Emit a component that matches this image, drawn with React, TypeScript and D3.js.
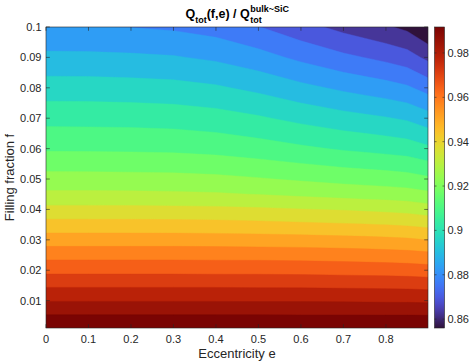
import * as d3 from "d3";
import { useRef, useEffect } from "react";

const width = 476;
const height = 363;
const plotLeft = 46;
const plotRight = 428;
const plotTop = 27;
const plotBottom = 328;
const barLeft = 434.5;
const barWidth = 10;

// sampled eccentricities (columns) and filling fractions (rows)
const ecc = [0, 0.1, 0.2, 0.3, 0.4, 0.5, 0.6, 0.7, 0.75, 0.8, 0.85, 0.899];
const fill = [0.001, 0.005, 0.01, 0.015, 0.02, 0.025, 0.03, 0.035, 0.04, 0.045, 0.05, 0.06, 0.07, 0.08, 0.09, 0.1];

// Q_tot(f,e) / Q_tot^bulk, one row per filling fraction
const qRatio = [
  [0.9917, 0.9917, 0.9917, 0.9917, 0.9917, 0.9917, 0.9917, 0.9917, 0.9917, 0.9917, 0.9917, 0.9917],
  [0.9858, 0.9858, 0.9858, 0.9858, 0.9858, 0.9858, 0.9857, 0.9857, 0.9857, 0.9856, 0.9856, 0.9855],
  [0.9784, 0.9784, 0.9784, 0.9784, 0.9784, 0.9783, 0.9783, 0.9782, 0.9781, 0.978, 0.9779, 0.9777],
  [0.9714, 0.9714, 0.9714, 0.9714, 0.9714, 0.9713, 0.9712, 0.971, 0.9709, 0.9708, 0.9706, 0.9702],
  [0.964, 0.964, 0.964, 0.964, 0.9639, 0.9639, 0.9637, 0.9634, 0.9632, 0.963, 0.9627, 0.9622],
  [0.9572, 0.9572, 0.9572, 0.9572, 0.9571, 0.957, 0.9568, 0.9564, 0.9561, 0.9558, 0.9554, 0.9547],
  [0.9497, 0.9497, 0.9497, 0.9497, 0.9496, 0.9494, 0.9491, 0.9486, 0.9483, 0.9479, 0.9474, 0.9464],
  [0.9425, 0.9425, 0.9425, 0.9424, 0.9422, 0.9418, 0.9412, 0.9406, 0.9403, 0.9399, 0.9393, 0.9383],
  [0.9354, 0.9354, 0.9353, 0.9352, 0.935, 0.9345, 0.9338, 0.9331, 0.9326, 0.9321, 0.9315, 0.9302],
  [0.9284, 0.9284, 0.9283, 0.9281, 0.9277, 0.9269, 0.9259, 0.9249, 0.9244, 0.9239, 0.9233, 0.922],
  [0.923, 0.923, 0.9228, 0.9226, 0.9221, 0.9211, 0.9198, 0.9185, 0.918, 0.9175, 0.9168, 0.9153],
  [0.9133, 0.9132, 0.9131, 0.9128, 0.912, 0.9106, 0.9088, 0.907, 0.9063, 0.9055, 0.9046, 0.9025],
  [0.9056, 0.9055, 0.9053, 0.9049, 0.9039, 0.902, 0.8995, 0.8972, 0.8962, 0.8952, 0.8939, 0.8911],
  [0.8978, 0.8977, 0.8974, 0.8969, 0.8956, 0.8932, 0.89, 0.8871, 0.8858, 0.8845, 0.8828, 0.8793],
  [0.8899, 0.8898, 0.8894, 0.8888, 0.8872, 0.8843, 0.8804, 0.8768, 0.8753, 0.8737, 0.8717, 0.8674],
  [0.8822, 0.8821, 0.8817, 0.8809, 0.8791, 0.8756, 0.8712, 0.867, 0.8652, 0.8633, 0.861, 0.856],
];

const xTicks = [0, 0.1, 0.2, 0.3, 0.4, 0.5, 0.6, 0.7, 0.8];
const yTicks = [0.01, 0.02, 0.03, 0.04, 0.05, 0.06, 0.07, 0.08, 0.09, 0.1];
const cTicks = [0.86, 0.88, 0.9, 0.92, 0.94, 0.96, 0.98];
const cMin = 0.856;
const cMax = 0.9917;
const nLevels = 20;

const axisColor = "#262626";
const font = "'Liberation Sans', Arial, Helvetica, sans-serif";

// matlab-like turbo: d3's polynomial with the real end colours
const turbo = (t: number) => {
  if (t < 0.05) return d3.interpolateRgb("#30123b", d3.interpolateTurbo(0.05))(t / 0.05);
  if (t > 0.9) return d3.interpolateRgb(d3.interpolateTurbo(0.9), "#7a0403")((t - 0.9) / 0.1);
  return d3.interpolateTurbo(t);
};

// fractional grid index (d3.contours puts samples at i + 0.5) -> data value
const fromIndex = (arr: number[], c: number) => {
  const t = Math.max(0, Math.min(arr.length - 1, c - 0.5));
  const i0 = Math.min(Math.floor(t), arr.length - 2);
  return arr[i0] + (t - i0) * (arr[i0 + 1] - arr[i0]);
};

const fmt = d3.format(".2~f");

const Chart = () => {
  const ref = useRef<SVGSVGElement>(null);

  useEffect(() => {
    if (!ref.current) return;
    const svg = d3.select(ref.current);
    svg.selectAll("*").remove();

    const x = d3.scaleLinear().domain([0, 0.899]).range([plotLeft, plotRight]);
    const y = d3.scaleLinear().domain([0.001, 0.1]).range([plotBottom, plotTop]);

    const step = (cMax - cMin) / (nLevels + 1);
    const levels = d3.range(1, nLevels + 1).map((k) => cMin + k * step);

    const contours = d3
      .contours()
      .size([ecc.length, fill.length])
      .thresholds(levels)(qRatio.flat());

    const projection = d3.geoTransform({
      point(px: number, py: number) {
        this.stream.point(x(fromIndex(ecc, px)), y(fromIndex(fill, py)));
      },
    });
    const path = d3.geoPath(projection);

    svg.append("defs").append("clipPath").attr("id", "plotClip")
      .append("rect")
      .attr("x", plotLeft).attr("y", plotTop)
      .attr("width", plotRight - plotLeft).attr("height", plotBottom - plotTop);

    const bands = svg.append("g").attr("clip-path", "url(#plotClip)");
    bands.append("rect")
      .attr("x", plotLeft).attr("y", plotTop)
      .attr("width", plotRight - plotLeft).attr("height", plotBottom - plotTop)
      .attr("fill", turbo(0));

    bands.selectAll("path.band")
      .data(contours)
      .join("path")
      .attr("class", "band")
      .attr("d", (d: any) => path(d))
      .attr("fill", (d: any, i: number) => turbo((i + 1) / nLevels))
      .attr("stroke", (d: any, i: number) => turbo((i + 1) / nLevels))
      .attr("stroke-width", 0.4);

    // axes box with inward ticks on all sides
    const axes = svg.append("g").attr("stroke", axisColor).attr("stroke-width", 0.6);
    axes.append("rect")
      .attr("x", plotLeft).attr("y", plotTop)
      .attr("width", plotRight - plotLeft).attr("height", plotBottom - plotTop)
      .attr("fill", "none");
    const tl = 3.8;
    xTicks.forEach((t) => {
      axes.append("line").attr("x1", x(t)).attr("x2", x(t)).attr("y1", plotBottom).attr("y2", plotBottom - tl);
      axes.append("line").attr("x1", x(t)).attr("x2", x(t)).attr("y1", plotTop).attr("y2", plotTop + tl);
    });
    yTicks.forEach((t) => {
      axes.append("line").attr("x1", plotLeft).attr("x2", plotLeft + tl).attr("y1", y(t)).attr("y2", y(t));
      axes.append("line").attr("x1", plotRight).attr("x2", plotRight - tl).attr("y1", y(t)).attr("y2", y(t));
    });

    const labels = svg.append("g").attr("font-family", font).attr("fill", axisColor).attr("font-size", 11);
    labels.selectAll("text.xt").data(xTicks).join("text")
      .attr("class", "xt")
      .attr("x", (d) => x(d)).attr("y", 343)
      .attr("text-anchor", "middle")
      .text((d) => fmt(d));
    labels.selectAll("text.yt").data(yTicks).join("text")
      .attr("class", "yt")
      .attr("x", 41.5).attr("y", (d) => y(d) + 4)
      .attr("text-anchor", "end")
      .text((d) => fmt(d));

    labels.append("text")
      .attr("x", (plotLeft + plotRight) / 2).attr("y", 358)
      .attr("text-anchor", "middle").attr("font-size", 13)
      .text("Eccentricity e");
    labels.append("text")
      .attr("transform", `translate(14,${(plotTop + plotBottom) / 2}) rotate(-90)`)
      .attr("text-anchor", "middle").attr("font-size", 13)
      .text("Filling fraction f");

    // colorbar
    const c = d3.scaleLinear().domain([cMin, cMax]).range([plotBottom, plotTop]);
    const grad = svg.select("defs").append("linearGradient")
      .attr("id", "cbar").attr("x1", 0).attr("x2", 0).attr("y1", 1).attr("y2", 0);
    d3.range(0, 1.0001, 0.02).forEach((t) => {
      grad.append("stop").attr("offset", t).attr("stop-color", turbo(t));
    });
    svg.append("rect")
      .attr("x", barLeft).attr("y", plotTop)
      .attr("width", barWidth).attr("height", plotBottom - plotTop)
      .attr("fill", "url(#cbar)")
      .attr("stroke", axisColor).attr("stroke-width", 0.6);
    const cbTicks = svg.append("g").attr("stroke", axisColor).attr("stroke-width", 0.6);
    cTicks.forEach((t) => {
      cbTicks.append("line").attr("x1", barLeft).attr("x2", barLeft + 2).attr("y1", c(t)).attr("y2", c(t));
      cbTicks.append("line").attr("x1", barLeft + barWidth).attr("x2", barLeft + barWidth - 2).attr("y1", c(t)).attr("y2", c(t));
    });
    labels.selectAll("text.ct").data(cTicks).join("text")
      .attr("class", "ct")
      .attr("x", barLeft + barWidth + 3).attr("y", (d) => c(d) + 4)
      .text((d) => fmt(d));

    // title: Q_tot(f,e) / Q_tot^{bulk~SiC}
    const title = svg.append("g").attr("font-family", font).attr("font-weight", "bold").attr("fill", "#000");
    const main = title.append("text").attr("font-size", 12.5).attr("y", 18);
    main.append("tspan").text("Q");
    main.append("tspan").attr("font-size", 9).attr("dy", 4.5).text("tot");
    main.append("tspan").attr("dy", -4.5).text("(f,e) / Q");
    const w1 = (main.node() as SVGTextElement).getComputedTextLength();
    const sup = title.append("text").attr("font-size", 9).attr("x", w1 + 0.5).attr("y", 11.5).text("bulk~SiC");
    const sub = title.append("text").attr("font-size", 9).attr("x", w1 + 0.5).attr("y", 23).text("tot");
    const w2 = Math.max(
      (sup.node() as SVGTextElement).getComputedTextLength(),
      (sub.node() as SVGTextElement).getComputedTextLength()
    );
    title.attr("transform", `translate(${237 - (w1 + w2) / 2},0)`);
  }, []);

  return (
    <svg
      ref={ref}
      width={width}
      height={height}
      style={{ position: "absolute", left: 0, top: 0, background: "#fff" }}
    />
  );
};

export default function App() {
  return <Chart />;
}
